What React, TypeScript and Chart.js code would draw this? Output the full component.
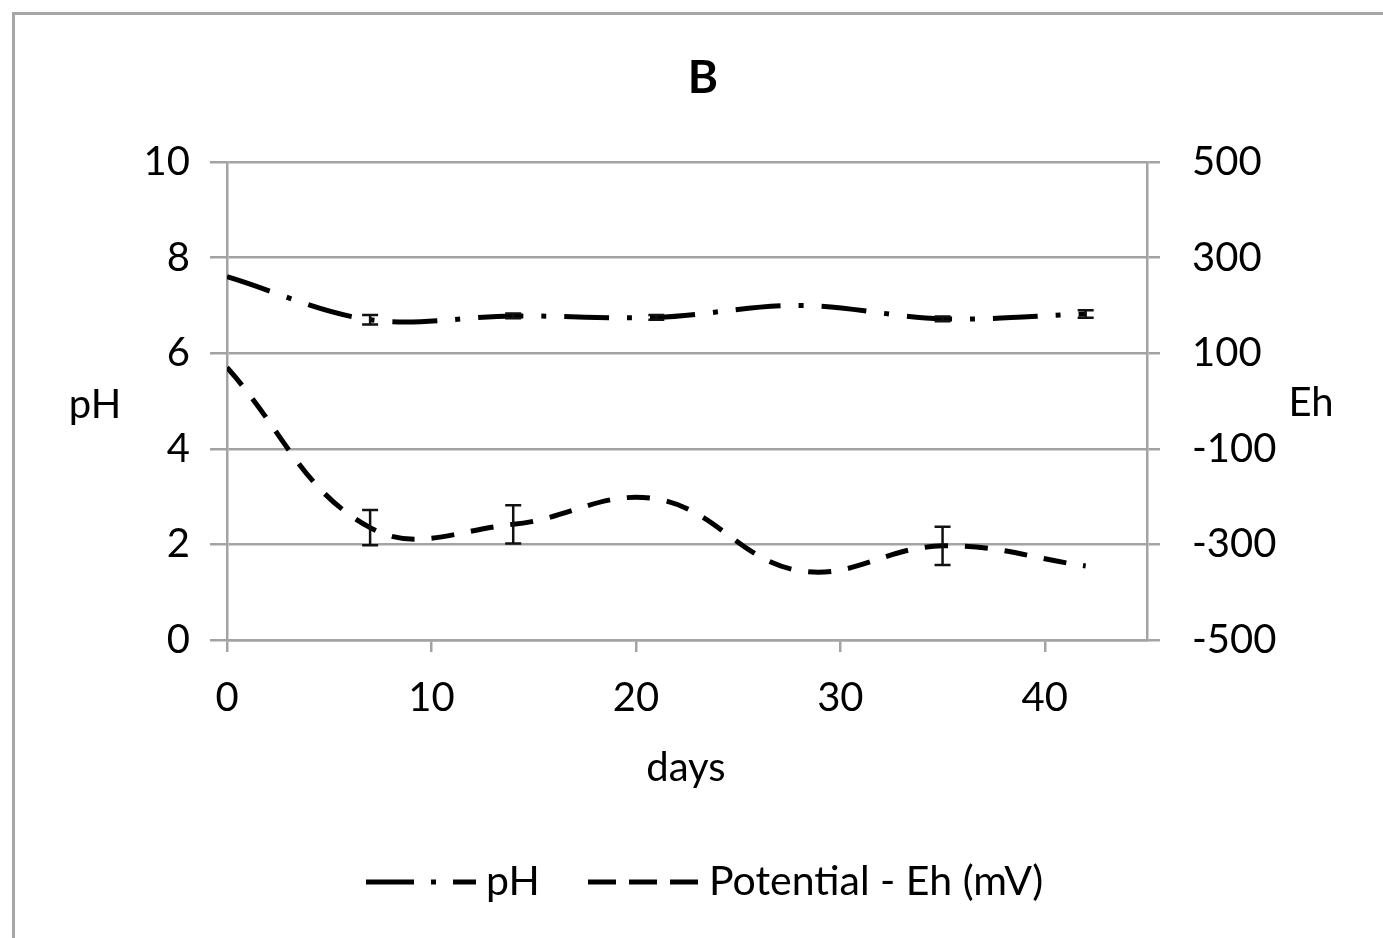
import React, { useEffect, useRef } from "react";
import { Chart, registerables } from "chart.js";
Chart.register(...registerables);

const days = [0, 7, 14, 21, 28, 35, 42];
const phValues = [7.6, 6.7, 6.78, 6.75, 7.0, 6.72, 6.82];
const phErrors = [0, 0.1, 0.05, 0.05, 0, 0.05, 0.08];
const ehValues = [70, -265, -258, -205, -355, -303, -345];
const ehErrors = [0, 37, 40, 0, 0, 40, 0];
const xTickValues = [0, 10, 20, 30, 40];

const titleText = "B";
const xTitle = "days";
const yLeftTitle = "pH";
const yRightTitle = "Eh";
const legendLabels = ["pH", "Potential - Eh (mV)"];

const FONT = "Lato, 'Open Sans', sans-serif";
const GRID = "#a3a3a3";
const TEXT = "#000000";
const PH_DASH = [45, 18, 5, 18];
const EH_DASH = [23, 17];

const decorPlugin = {
  id: "decor",
  beforeDraw(chart: any) {
    const ctx = chart.ctx;
    ctx.save();
    ctx.fillStyle = "#ffffff";
    ctx.fillRect(0, 0, chart.width, chart.height);
    ctx.strokeStyle = "#a6a6a6";
    ctx.lineWidth = 3;
    ctx.strokeRect(13.5, 13.5, 1400, 1000);
    ctx.restore();
  },
  afterDatasetsDraw(chart: any) {
    const ctx = chart.ctx;
    const xs = chart.scales.x;
    const sets = [
      { vals: phValues, errs: phErrors, scale: chart.scales.y },
      { vals: ehValues, errs: ehErrors, scale: chart.scales.y1 },
    ];
    ctx.save();
    ctx.strokeStyle = "#111";
    ctx.lineWidth = 2.5;
    ctx.setLineDash([]);
    sets.forEach((s) => {
      s.vals.forEach((v, i) => {
        const e = s.errs[i];
        if (!e) return;
        const px = xs.getPixelForValue(days[i]);
        const t = s.scale.getPixelForValue(v + e);
        const b = s.scale.getPixelForValue(v - e);
        ctx.beginPath();
        ctx.moveTo(px, t);
        ctx.lineTo(px, b);
        ctx.moveTo(px - 8, t);
        ctx.lineTo(px + 8, t);
        ctx.moveTo(px - 8, b);
        ctx.lineTo(px + 8, b);
        ctx.stroke();
      });
    });
    ctx.restore();
  },
  afterDraw(chart: any) {
    const ctx = chart.ctx;
    ctx.save();
    ctx.fillStyle = TEXT;
    ctx.textBaseline = "middle";
    ctx.textAlign = "center";
    ctx.font = `bold 46px ${FONT}`;
    ctx.fillText(titleText, 703, 78);
    ctx.font = `40px ${FONT}`;
    ctx.fillText(yLeftTitle, 95, 405);
    ctx.fillText(yRightTitle, 1311, 403);
    ctx.fillText(xTitle, 686, 768);

    // legend
    const ly = 882;
    ctx.strokeStyle = "#000";
    ctx.lineWidth = 5;
    ctx.setLineDash([48, 17, 5, 17]);
    ctx.beginPath();
    ctx.moveTo(366, ly);
    ctx.lineTo(476, ly);
    ctx.stroke();
    ctx.setLineDash([28, 13]);
    ctx.beginPath();
    ctx.moveTo(588, ly);
    ctx.lineTo(700, ly);
    ctx.stroke();
    ctx.setLineDash([]);
    ctx.textAlign = "left";
    ctx.font = `41px ${FONT}`;
    ctx.fillText(legendLabels[0], 486, ly);
    ctx.fillText(legendLabels[1], 709, ly);
    ctx.restore();
  },
};

export default function App() {
  const ref = useRef<HTMLCanvasElement>(null);
  useEffect(() => {
    if (!ref.current) return;
    const chart = new Chart(ref.current, {
      type: "line",
      data: {
        datasets: [
          {
            label: legendLabels[0],
            data: days.map((d, i) => ({ x: d, y: phValues[i] })),
            yAxisID: "y",
            borderColor: "#000",
            borderWidth: 5,
            borderDash: PH_DASH,
            pointRadius: 0,
            tension: 0.35,
            fill: false,
          },
          {
            label: legendLabels[1],
            data: days.map((d, i) => ({ x: d, y: ehValues[i] })),
            yAxisID: "y1",
            borderColor: "#000",
            borderWidth: 5,
            borderDash: EH_DASH,
            pointRadius: 0,
            tension: 0.4,
            fill: false,
          },
        ],
      },
      options: {
        responsive: false,
        animation: false,
        devicePixelRatio: 1,
        layout: { padding: { top: 162, bottom: 198, left: 0, right: 0 } },
        plugins: {
          legend: { display: false },
          title: { display: false },
          tooltip: { enabled: false },
        },
        scales: {
          x: {
            type: "linear",
            min: 0,
            max: 45,
            afterBuildTicks: (s: any) => {
              s.ticks = xTickValues.map((v) => ({ value: v }));
            },
            afterFit: (s: any) => {
              s.height = 100;
            },
            ticks: { stepSize: 10, padding: 22, color: TEXT, font: { family: FONT, size: 40 } },
            grid: { drawOnChartArea: false, tickLength: 12, color: GRID, lineWidth: 2.5 },
            border: { display: true, color: GRID, width: 2.5 },
          },
          y: {
            position: "left",
            min: 0,
            max: 10,
            afterFit: (s: any) => {
              s.width = 227;
            },
            ticks: { stepSize: 2, padding: 20, color: TEXT, font: { family: FONT, size: 40 } },
            grid: { color: GRID, lineWidth: 2.5, tickLength: 17 },
            border: { display: true, color: GRID, width: 2.5 },
          },
          y1: {
            position: "right",
            min: -500,
            max: 500,
            afterFit: (s: any) => {
              s.width = 236;
            },
            ticks: { stepSize: 200, padding: 32, color: TEXT, font: { family: FONT, size: 40 } },
            grid: { drawOnChartArea: false, color: GRID, lineWidth: 2.5, tickLength: 13 },
            border: { display: true, color: GRID, width: 2.5 },
          },
        },
      },
      plugins: [decorPlugin],
    });
    return () => chart.destroy();
  }, []);
  return (
    <div style={{ position: "absolute", left: 0, top: 0, width: 1383, height: 938 }}>
      <canvas ref={ref} width={1383} height={938} style={{ width: 1383, height: 938, display: "block" }} />
    </div>
  );
}
